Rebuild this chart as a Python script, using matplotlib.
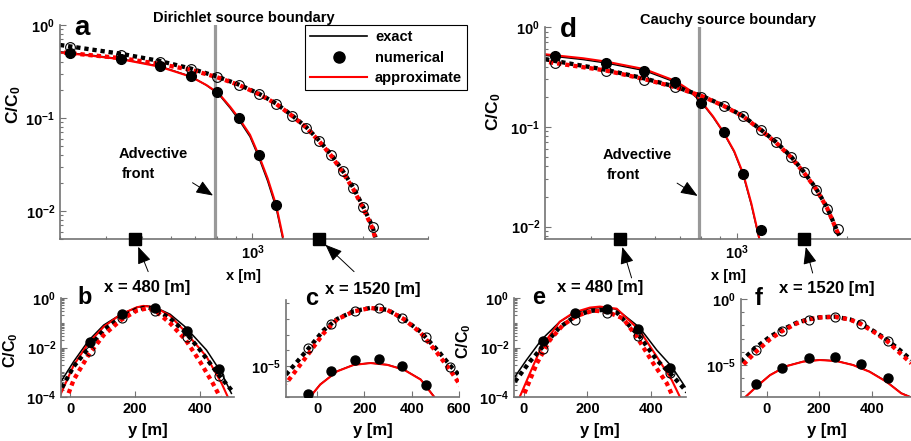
import numpy as np
import matplotlib
matplotlib.use('Agg')
import matplotlib.pyplot as plt
from matplotlib.lines import Line2D
from matplotlib.ticker import FixedLocator, LogLocator, FuncFormatter, NullFormatter, NullLocator

plt.rcParams.update({
    'font.family': ['Liberation Sans', 'DejaVu Sans'],
    'font.weight': 'bold',
    'axes.labelweight': 'bold',
    'axes.titleweight': 'bold',
    'mathtext.fontset': 'custom',
    'mathtext.rm': 'Liberation Sans:bold',
    'mathtext.bf': 'Liberation Sans:bold',
    'mathtext.it': 'Liberation Sans:bold:italic',
    'mathtext.default': 'bf',
})

# ---- shared
slice_x = [480, 1520]       # transverse profile positions [m]
front_x = 790               # advective front [m]

# ---- panel a (Dirichlet), centreline profiles
a_x_num = [320, 440, 560, 680, 800, 920, 1040, 1160]
a_num_solid = [0.50, 0.43, 0.36, 0.28, 0.19, 0.099, 0.040, 0.0116]
a_x_num_dot = [320, 440, 560, 680, 800, 920, 1040, 1160, 1280, 1400, 1520, 1640, 1760, 1880, 2000, 2120]
a_num_dot = [0.575, 0.475, 0.397, 0.334, 0.278, 0.226, 0.181, 0.142, 0.106, 0.079, 0.057, 0.040,
             0.027, 0.0178, 0.0111, 0.0068]
a_x_solid = [300, 370, 440, 560, 680, 750, 810, 870, 920, 985, 1040, 1100, 1160, 1210]
a_exact_solid = [0.515, 0.47, 0.432, 0.36, 0.28, 0.225, 0.18, 0.128, 0.095, 0.063, 0.038, 0.021, 0.0108, 0.0050]
a_approx_solid = [0.508, 0.464, 0.428, 0.356, 0.278, 0.226, 0.184, 0.132, 0.099, 0.066, 0.040, 0.0224, 0.0116, 0.0053]
a_x_dot = [300, 440, 560, 680, 800, 920, 1040, 1160, 1280, 1400, 1520, 1640, 1760, 1880, 2000, 2120, 2160]
a_exact_dot = [0.61, 0.49, 0.41, 0.34, 0.28, 0.228, 0.183, 0.143, 0.107, 0.080, 0.057, 0.040, 0.027,
               0.0178, 0.0111, 0.0068, 0.0052]
a_approx_dot = [0.51, 0.44, 0.38, 0.33, 0.275, 0.226, 0.181, 0.142, 0.106, 0.079, 0.056, 0.039, 0.026,
                0.0172, 0.0107, 0.0065, 0.0050]

# ---- panel d (Cauchy), centreline profiles
d_x_num = [320, 440, 560, 680, 800, 920, 1040, 1160]
d_num_solid = [0.51, 0.44, 0.36, 0.28, 0.175, 0.088, 0.034, 0.0093]
d_x_num_dot = [320, 440, 560, 680, 800, 920, 1040, 1160, 1280, 1400, 1520, 1640, 1760, 1880]
d_num_dot = [0.44, 0.36, 0.295, 0.25, 0.20, 0.16, 0.127, 0.093, 0.070, 0.050, 0.035, 0.023, 0.015, 0.0095]
d_x_solid = [300, 381, 440, 560, 680, 742, 800, 861, 920, 983, 1040, 1095, 1150]
d_exact_solid = [0.52, 0.472, 0.436, 0.366, 0.280, 0.229, 0.176, 0.125, 0.087, 0.056, 0.033, 0.0165, 0.0075]
d_approx_solid = [0.533, 0.486, 0.450, 0.378, 0.288, 0.234, 0.179, 0.127, 0.088, 0.057, 0.034, 0.017, 0.0077]
d_x_dot = [300, 440, 560, 680, 800, 920, 1040, 1160, 1280, 1400, 1520, 1640, 1760, 1900]
d_exact_dot = [0.475, 0.372, 0.305, 0.252, 0.205, 0.163, 0.128, 0.094, 0.070, 0.051, 0.0355, 0.0243, 0.0156, 0.0081]
d_approx_dot = [0.45, 0.366, 0.30, 0.249, 0.204, 0.162, 0.127, 0.093, 0.069, 0.050, 0.035, 0.024, 0.0154, 0.0080]

# ---- panel b (Dirichlet, x = 480)
b_y_num = [60, 160, 260, 360, 460]
b_num_solid = [0.016, 0.226, 0.38, 0.048, 0.0013]
b_num_dot = [0.0072, 0.15, 0.31, 0.027, 0.0007]
b_y_exact_solid = [-29, 10, 56, 103, 156, 205, 236, 262, 308, 354, 420, 467, 497]
b_exact_solid = [4.2e-4, 2.7e-3, 0.019, 0.081, 0.22, 0.42, 0.48, 0.42, 0.22, 0.069, 7.9e-3, 9.1e-4, 1.4e-4]
b_y_approx_solid = [-30, 10, 56, 103, 156, 205, 225, 262, 308, 354, 420, 467, 486]
b_approx_solid = [1.3e-4, 1.9e-3, 0.015, 0.069, 0.22, 0.42, 0.48, 0.42, 0.19, 0.044, 4.3e-3, 3.5e-4, 1e-4]
b_y_exact_dot = [-26, 10, 56, 103, 156, 205, 236, 262, 308, 356, 400, 454, 497]
b_exact_dot = [2.4e-4, 1.7e-3, 9.3e-3, 0.051, 0.166, 0.35, 0.42, 0.35, 0.15, 0.040, 7.9e-3, 9.1e-4, 1.9e-4]
b_y_approx_dot = [-10, 10, 56, 103, 156, 205, 236, 262, 308, 356, 400, 440, 462]
b_approx_dot = [1e-4, 4.9e-4, 5.0e-3, 0.032, 0.129, 0.31, 0.38, 0.31, 0.095, 0.020, 2.7e-3, 3.5e-4, 1e-4]

# ---- panel c (Dirichlet, x = 1520)
c_y_num = [-40, 60, 160, 260, 360, 460]
c_num_solid = [1.6e-7, 4.4e-6, 2.2e-5, 2.8e-5, 9.1e-6, 6.3e-7]
c_y_num_dot = [-40, 60, 160, 260, 360, 460, 560]
c_num_dot = [1.3e-4, 4.6e-3, 0.035, 0.052, 0.012, 6.6e-4, 8.3e-6]
c_y_solid = [-30, 13, 84, 155, 226, 297, 367, 438, 495]
c_exact_solid = [1.05e-7, 6.5e-7, 4.5e-6, 1.17e-5, 1.52e-5, 1.17e-5, 5.7e-6, 1.35e-6, 1.05e-7]
c_approx_solid = [1e-7, 6.3e-7, 4.4e-6, 1.15e-5, 1.5e-5, 1.15e-5, 5.6e-6, 1.3e-6, 1e-7]
c_y_dot = [-132, -72, -30, 27, 84, 155, 226, 297, 367, 438, 509, 566, 608]
c_exact_dot = [2.7e-6, 3.1e-5, 1.7e-4, 1.9e-3, 0.010, 0.032, 0.052, 0.039, 0.010, 1.5e-3, 1.0e-4, 9.1e-6, 1.9e-6]
c_approx_dot = [7.2e-7, 1.15e-5, 8.1e-5, 1.2e-3, 0.0095, 0.031, 0.051, 0.038, 0.0098, 1.3e-3, 6.3e-5, 4.4e-6, 4.9e-7]

# ---- panel e (Cauchy, x = 480)
e_y_num = [60, 160, 260, 360, 460]
e_num_solid = [0.019, 0.24, 0.35, 0.055, 1.45e-3]
e_num_dot = [8.5e-3, 0.13, 0.24, 0.029, 9.1e-4]
e_y_exact_solid = [-28, 8, 56, 113, 157, 208, 250, 292, 363, 418, 465, 507]
e_exact_solid = [6.6e-4, 3.1e-3, 0.021, 0.11, 0.24, 0.38, 0.42, 0.35, 0.066, 7.9e-3, 1.7e-3, 2.6e-4]
e_y_approx_solid = [-13, 19, 56, 113, 157, 208, 239, 292, 363, 418, 465, 491]
e_approx_solid = [1e-4, 9.1e-4, 0.011, 0.11, 0.26, 0.41, 0.45, 0.37, 0.051, 4.3e-3, 4.9e-4, 1e-4]
e_y_exact_dot = [-28, 19, 60, 113, 161, 208, 250, 292, 363, 418, 465, 513]
e_exact_dot = [4.2e-4, 2.7e-3, 0.011, 0.066, 0.18, 0.30, 0.33, 0.26, 0.029, 3.1e-3, 7.8e-4, 1.6e-4]
e_y_approx_dot = [-3, 41, 82, 123, 166, 218, 261, 312, 356, 407, 450, 469]
e_approx_dot = [1e-4, 2.3e-3, 0.020, 0.081, 0.19, 0.31, 0.28, 0.15, 0.026, 2.3e-3, 3.5e-4, 1e-4]

# ---- panel f (Cauchy, x = 1520)
f_y_num = [-40, 60, 160, 260, 360, 460]
f_num_solid = [3.4e-7, 6.3e-6, 3.2e-5, 3.8e-5, 1.3e-5, 1.1e-6]
f_num_dot = [1.5e-4, 4.0e-3, 0.026, 0.041, 0.013, 6.9e-4]
f_y_solid = [-82, -38, 13, 76, 139, 202, 265, 328, 391, 455, 511, 549]
f_exact_solid = [3.6e-8, 2.4e-7, 1.75e-6, 8.5e-6, 1.85e-5, 2.45e-5, 2.05e-5, 1.02e-5, 3.2e-6, 5.6e-7, 7.5e-8, 3.6e-8]
f_approx_solid = [3.5e-8, 2.3e-7, 1.7e-6, 8.3e-6, 1.8e-5, 2.4e-5, 2.0e-5, 1.0e-5, 3.1e-6, 5.4e-7, 7.2e-8, 3.5e-8]
f_y_dot = [-98, -44, 13, 57, 114, 158, 202, 259, 316, 360, 417, 458, 505, 549]
f_exact_dot = [1.8e-5, 1.9e-4, 1.4e-3, 4.5e-3, 0.016, 0.029, 0.041, 0.046, 0.029, 0.013, 2.8e-3, 7.8e-4, 1.4e-4, 2.4e-5]
f_approx_dot = [6.8e-6, 8.5e-5, 8.9e-4, 3.5e-3, 0.014, 0.028, 0.040, 0.045, 0.028, 0.012, 2.4e-3, 6.3e-4, 8.5e-5, 1.35e-5]

RED = (1, 0, 0)
DOT = (0, (1.0, 0.9))
DOT_R = (0.95, (1.0, 0.9))
W, H = 912, 441


def rect(l, t, r, b):
    return [l / W, 1 - b / H, (r - l) / W, (b - t) / H]


def pow10(v, pos):
    return r'$10^{%d}$' % int(round(np.log10(v)))


def style(ax, fs=10.5):
    for s in ('top', 'right'):
        ax.spines[s].set_visible(False)
    for s in ('left', 'bottom'):
        ax.spines[s].set_color('0.45')
        ax.spines[s].set_linewidth(1.2)
    ax.tick_params(which='both', direction='in', color='0.45', width=0.8, labelsize=fs)
    ax.tick_params(which='major', length=4)
    ax.tick_params(which='minor', length=2.5)


def draw(ax, xs, ex_s, ap_s, xd, ex_d, ap_d, xn, num_s, xnd, num_d, ms=7):
    ax.plot(xs[0], ex_s, color='k', lw=1.1, zorder=2)
    ax.plot(xs[1], ap_s, color=RED, lw=1.5, zorder=2.1)
    ax.plot(xd[0], ex_d, color='k', lw=3.1, ls=DOT, zorder=2.2)
    ax.plot(xd[1], ap_d, color=RED, lw=3.1, ls=DOT_R, zorder=2.3)
    ax.plot(xn, num_s, 'o', color='k', ms=ms, zorder=3)
    ax.plot(xnd, num_d, 'o', mfc='none', mec='k', mew=0.8, ms=ms, zorder=3)


ARROW = dict(arrowstyle='-|>,head_length=0.55,head_width=0.22', color='k', lw=0.7,
             mutation_scale=19, shrinkA=0)

fig = plt.figure(figsize=(W / 100, H / 100), dpi=100)

# ---------------- top panels ----------------
top = [
    ('a', 'Dirichlet source boundary', rect(60, 25, 428, 239), (0.005, 1),
     (a_x_solid, a_exact_solid, a_approx_solid, a_x_dot, a_exact_dot, a_approx_dot,
      a_x_num, a_num_solid, a_x_num_dot, a_num_dot),
     [(9.4, -23.5), (25, -23.5)], (-0.10, 0.628)),
    ('d', 'Cauchy source boundary', rect(545, 27, 912, 239), (0.0075, 1),
     (d_x_solid, d_exact_solid, d_approx_solid, d_x_dot, d_exact_dot, d_approx_dot,
      d_x_num, d_num_solid, d_x_num_dot, d_num_dot),
     [(8.4, -28), (6.5, -24.5)], (-0.114, 0.60)),
]
for letter, title, r, ylim, data, arrows, ylab in top:
    ax = fig.add_axes(r)
    xs, exs, aps, xd, exd, apd, xn, ns, xnd, nd = data
    draw(ax, (xs, xs), exs, aps, (xd, xd), exd, apd, xn, ns, xnd, nd, ms=7)
    ax.set_xscale('log')
    ax.set_yscale('log')
    ax.set_xlim(300, 3000)
    ax.set_ylim(*ylim)
    style(ax)
    ax.xaxis.set_major_locator(FixedLocator([1000]))
    ax.xaxis.set_major_formatter(FuncFormatter(pow10))
    ax.xaxis.set_minor_locator(LogLocator(subs=np.arange(2, 10), numticks=20))
    ax.xaxis.set_minor_formatter(NullFormatter())
    ax.yaxis.set_major_locator(FixedLocator([1e-2, 1e-1, 1]))
    ax.yaxis.set_major_formatter(FuncFormatter(pow10))
    ax.yaxis.set_minor_locator(LogLocator(subs=np.arange(2, 10), numticks=20))
    ax.yaxis.set_minor_formatter(NullFormatter())
    ax.axvline(front_x, color='0.6', lw=2.3, zorder=1)
    ax.set_xlabel('x [m]', fontsize=10.5, labelpad=5)
    ax.set_ylabel('C/C$_0$', fontsize=12.5)
    ax.yaxis.set_label_coords(*ylab)
    ax.set_title(title, fontsize=10.5, pad=2.5)
    ax.text(0.04, 0.955, letter, transform=ax.transAxes, fontsize=20, va='baseline')
    ax.text(0.158, 0.397, 'Advective', transform=ax.transAxes, fontsize=10.5, va='center')
    ax.text(0.168, 0.304, 'front', transform=ax.transAxes, fontsize=10.5, va='center')
    ax.annotate('', xy=(front_x, 0.198), xycoords=ax.get_xaxis_transform(),
                xytext=(-16, 10), textcoords='offset points',
                arrowprops=dict(ARROW, shrinkB=1.5))
    trans = ax.get_xaxis_transform()
    ax.plot(slice_x, [0, 0], 's', color='k', ms=9, transform=trans, clip_on=False, zorder=5)
    for sx, off in zip(slice_x, arrows):
        ax.annotate('', xy=(sx, 0), xycoords=trans, xytext=off, textcoords='offset points',
                    arrowprops=dict(ARROW, shrinkB=6))

fig.legend(handles=[Line2D([], [], color='k', lw=1.2),
                    Line2D([], [], ls='none', marker='o', color='k', ms=8),
                    Line2D([], [], color=RED, lw=1.5)],
           labels=['exact', 'numerical', 'approximate'],
           loc='upper left', bbox_to_anchor=(305 / W, 1 - 25 / H), borderaxespad=0,
           fancybox=False, edgecolor='k', framealpha=1, fontsize=10.5,
           handlelength=3.9, handletextpad=0.55, labelspacing=0.45, borderpad=0.35).get_frame().set_linewidth(0.8)

# ---------------- bottom panels ----------------
bottom = [
    ('b', 'x = 480 [m]', rect(61, 298, 234, 397), (-29, 505), (1e-4, 1), [1e-4, 1e-2, 1],
     ((b_y_exact_solid, b_y_approx_solid), b_exact_solid, b_approx_solid,
      (b_y_exact_dot, b_y_approx_dot), b_exact_dot, b_approx_dot,
      b_y_num, b_num_solid, b_y_num, b_num_dot), (0.098, 0.94), (-0.237, 0.47), [0, 200, 400]),
    ('c', 'x = 1520 [m]', rect(286, 300, 459, 397), (-132, 600), (1e-7, 0.166), [1e-5],
     ((c_y_solid, c_y_solid), c_exact_solid, c_approx_solid,
      (c_y_dot, c_y_dot), c_exact_dot, c_approx_dot,
      c_y_num, c_num_solid, c_y_num_dot, c_num_dot), (0.11, 0.95), None, [0, 200, 400, 600]),
    ('e', 'x = 480 [m]', rect(514, 298, 686, 397), (-31, 510), (1e-4, 1), [1e-4, 1e-2, 1],
     ((e_y_exact_solid, e_y_approx_solid), e_exact_solid, e_approx_solid,
      (e_y_exact_dot, e_y_approx_dot), e_exact_dot, e_approx_dot,
      e_y_num, e_num_solid, e_y_num, e_num_dot), (0.105, 0.94), (-0.238, 0.56), [0, 200, 400]),
    ('f', 'x = 1520 [m]', rect(741, 299, 912, 397), (-97, 552), (3.8e-8, 1), [1e-5, 1],
     ((f_y_solid, f_y_solid), f_exact_solid, f_approx_solid,
      (f_y_dot, f_y_dot), f_exact_dot, f_approx_dot,
      f_y_num, f_num_solid, f_y_num, f_num_dot), (0.08, 0.94), None, [0, 200, 400]),
]
for letter, title, r, xlim, ylim, yticks, data, lpos, ylab, xticks in bottom:
    ax = fig.add_axes(r)
    draw(ax, *data, ms=6.5)
    ax.set_yscale('log')
    ax.set_xlim(*xlim)
    ax.set_ylim(*ylim)
    style(ax)
    ax.set_xticks(xticks)
    ax.xaxis.set_minor_locator(NullLocator())
    ax.yaxis.set_major_locator(FixedLocator(yticks))
    ax.yaxis.set_major_formatter(FuncFormatter(pow10))
    if len(yticks) == 3:
        ax.yaxis.set_minor_locator(LogLocator(subs=np.arange(1, 10), numticks=30))
    else:
        ax.yaxis.set_minor_locator(LogLocator(subs=(1.0,), numticks=30))
    ax.yaxis.set_minor_formatter(NullFormatter())
    ax.set_xlabel('y [m]', fontsize=12, labelpad=5)
    if ylab is not None:
        ax.set_ylabel('C/C$_0$', fontsize=11.5)
        ax.yaxis.set_label_coords(*ylab)
    ax.set_title(title, fontsize=12, pad=4)
    ax.text(lpos[0], lpos[1], letter, transform=ax.transAxes, fontsize=17, va='baseline')

fig.savefig('out.png', dpi=100)
